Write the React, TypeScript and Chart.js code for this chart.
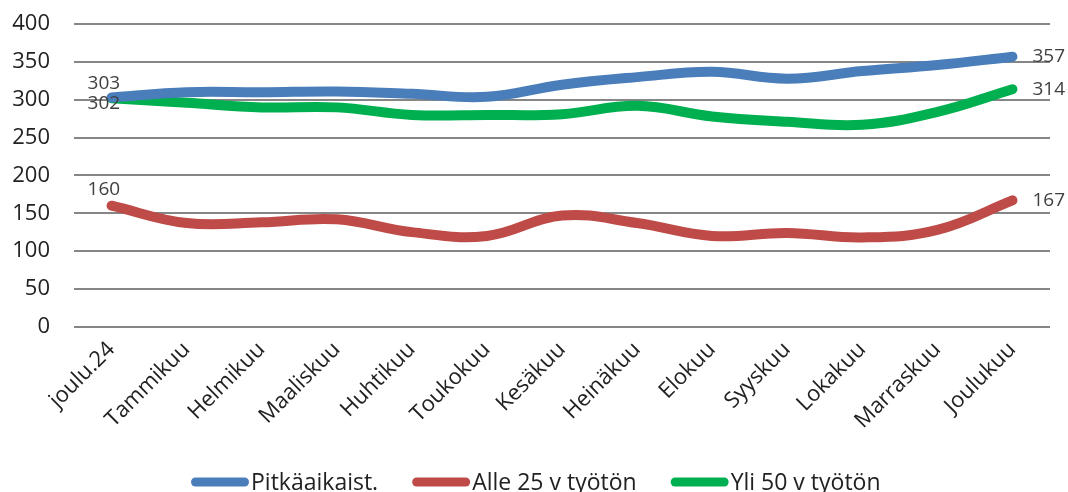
import React, { useEffect, useRef } from "react";
import { Chart, registerables } from "chart.js";

Chart.register(...registerables);

const categories = ["joulu.24", "Tammikuu", "Helmikuu", "Maaliskuu", "Huhtikuu", "Toukokuu", "Kesäkuu", "Heinäkuu", "Elokuu", "Syyskuu", "Lokakuu", "Marraskuu", "Joulukuu"];
const pitkaaikaiset = [303, 310, 310, 311, 308, 304, 320, 330, 337, 328, 338, 346, 357];
const alle25 = [160, 137, 138, 142, 125, 120, 147, 137, 120, 124, 118, 128, 167];
const yli50 = [302, 296, 290, 290, 280, 280, 281, 292, 278, 271, 267, 284, 314];
const yTicks = [0, 50, 100, 150, 200, 250, 300, 350, 400];

const FONT = "'Open Sans', sans-serif";
const SHIFT = 13;

const labelPlugin = {
  id: "endLabels",
  afterDatasetsDraw(chart: any) {
    const ctx = chart.ctx;
    ctx.save();
    ctx.font = `19px ${FONT}`;
    ctx.fillStyle = "#404040";
    ctx.textAlign = "left";
    ctx.textBaseline = "middle";
    const firstDy = [-14, -16, 5];
    chart.data.datasets.forEach((ds: any, i: number) => {
      const meta = chart.getDatasetMeta(i);
      const first = meta.data[0];
      const last = meta.data[meta.data.length - 1];
      ctx.fillText(String(ds.data[0]), first.x - 24, first.y + firstDy[i]);
      ctx.fillText(String(ds.data[ds.data.length - 1]), last.x + 20, last.y);
    });
    ctx.restore();
  },
};

const legendPlugin = {
  id: "customLegend",
  afterDraw(chart: any) {
    const ctx = chart.ctx;
    ctx.save();
    ctx.font = `23px ${FONT}`;
    ctx.textBaseline = "alphabetic";
    ctx.textAlign = "left";
    const y = 482 + SHIFT;
    const baseline = 490 + SHIFT;
    const boxW = 58;
    const gap = 2;
    const itemGap = 34;
    let x = 191;
    chart.data.datasets.forEach((ds: any) => {
      ctx.strokeStyle = ds.borderColor;
      ctx.lineWidth = 9;
      ctx.lineCap = "round";
      ctx.beginPath();
      ctx.moveTo(x + 4.5, y);
      ctx.lineTo(x + boxW - 4.5, y);
      ctx.stroke();
      const tx = x + boxW + gap;
      const tw = ctx.measureText(ds.label).width;
      ctx.fillStyle = "#222";
      ctx.fillText(ds.label, tx, baseline);
      x = tx + tw + itemGap;
    });
    ctx.restore();
  },
};

export default function App() {
  const ref = useRef<HTMLCanvasElement>(null);
  useEffect(() => {
    if (!ref.current) return;
    const mk = (label: string, data: number[], color: string) => ({
      label,
      data,
      borderColor: color,
      backgroundColor: color,
      borderWidth: 10,
      borderCapStyle: "round" as const,
      borderJoinStyle: "round" as const,
      pointRadius: 0,
      tension: 0.4,
      fill: false,
    });
    const chart = new Chart(ref.current, {
      type: "line",
      data: {
        labels: categories,
        datasets: [
          mk("Pitkäaikaist.", pitkaaikaiset, "#4a7ebb"),
          mk("Alle 25 v työtön", alle25, "#be4b48"),
          mk("Yli 50 v työtön", yli50, "#00b050"),
        ],
      },
      options: {
        animation: false,
        responsive: false,
        layout: { padding: { left: 0, right: 18, top: 0, bottom: 56 } },
        scales: {
          x: {
            offset: true,
            grid: { display: false },
            border: { display: false },
            ticks: {
              maxRotation: 45,
              minRotation: 45,
              color: "#222",
              font: { family: FONT, size: 22 },
              padding: 2,
            },
          },
          y: {
            min: 0,
            max: 400,
            afterBuildTicks: (axis: any) => {
              axis.ticks = yTicks.map((v) => ({ value: v }));
            },
            afterFit: (axis: any) => {
              axis.width = 74;
            },
            grid: { color: "#868686", lineWidth: 2, drawTicks: false },
            border: { display: false },
            ticks: {
              color: "#222",
              font: { family: FONT, size: 22 },
              padding: 24,
            },
          },
        },
        plugins: {
          legend: { display: false },
          tooltip: { enabled: false },
        },
      },
      plugins: [labelPlugin, legendPlugin],
    });
    return () => chart.destroy();
  }, []);
  return (
    <div style={{ position: "fixed", left: 0, top: 0, width: 1068, height: 492, background: "#fff", overflow: "hidden" }}>
      <canvas ref={ref} width={1068} height={492 + SHIFT} style={{ position: "absolute", left: 0, top: -SHIFT }} />
    </div>
  );
}
